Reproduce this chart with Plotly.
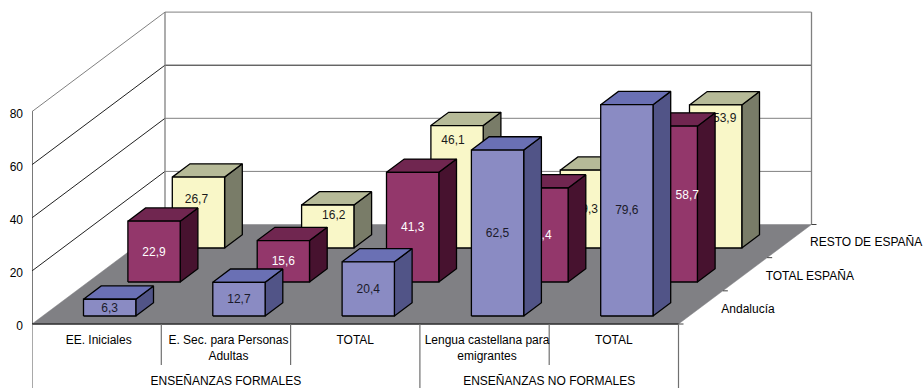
import plotly.graph_objects as go

# ---- data ----
categories = ["EE. Iniciales", "E. Sec. para Personas<br>Adultas", "TOTAL",
              "Lengua castellana para<br>emigrantes", "TOTAL"]
groups = ["ENSEÑANZAS FORMALES", "ENSEÑANZAS NO FORMALES"]
series_names = ["Andalucía", "TOTAL ESPAÑA", "RESTO DE ESPAÑA"]
andalucia = [6.3, 12.7, 20.4, 62.5, 79.6]
total_espana = [22.9, 15.6, 41.3, 35.4, 58.7]
resto_espana = [26.7, 16.2, 46.1, 29.3, 53.9]
value_ticks = [0, 20, 40, 60, 80]

# ---- chart geometry (axis units: x = category widths, y = value units) ----
CAT_PX = 129.3
VAL_PX = 2.655
LEFT_PX, ZERO_PX, W, H = 32, 324, 924, 388
DEPTH_X, DEPTH_Y = 133 / CAT_PX, 99.5 / VAL_PX      # full floor depth
STEP_X, STEP_Y = 44.4 / CAT_PX, 34 / VAL_PX         # one series back
BAR_W = 52.3 / CAT_PX
BAR_DX, BAR_DY = 17.7 / CAT_PX, 13.3 / VAL_PX       # bar depth
START_X, START_Y = 51.5 / CAT_PX, 8 / VAL_PX        # first bar's front corner
WALL_TOP = 80
FONT = 12

styles = [
    dict(front="#8a8bc3", top="#6a70b4", side="#515487", text="#1a1a2a"),
    dict(front="#93376b", top="#702650", side="#47122f", text="#ffffff"),
    dict(front="#f9f7c8", top="#b6ba98", side="#797c68", text="#1a1a1a"),
]
# manual label moves (px) as in the original, [series][category]
label_dx = [[0, 0, 0, 0, 0], [0, 0, 0, -2, 16], [-2, 6, -4, 0, 9]]
label_dy = [[0, 0, 0, 0, 0], [0, 0, 0, 0, -9], [-14, -11, -47, 0, -58]]
cat_label_dx = [2, 2.5, 0, 2.5, 0]
TEXT_DOWN = 1 / VAL_PX

fig = go.Figure()


def line(xs, ys, color="#808080", width=1):
    fig.add_trace(go.Scatter(x=xs, y=ys, mode="lines", hoverinfo="skip", cliponaxis=False,
                             line=dict(color=color, width=width)))


def poly(xs, ys, fill, edge="#000000", width=1.3):
    fig.add_trace(go.Scatter(x=xs + xs[:1], y=ys + ys[:1], mode="lines", fill="toself",
                             fillcolor=fill, hoverinfo="skip",
                             line=dict(color=edge, width=width)))


def text(x, y, s, color="#000000", pos="middle center", size=FONT):
    fig.add_trace(go.Scatter(x=[x], y=[y - TEXT_DOWN], mode="text", text=[s], textposition=pos,
                             hoverinfo="skip", cliponaxis=False,
                             textfont=dict(family="Liberation Sans, Arial", size=size, color=color)))


ncat = len(categories)
# floor
poly([0, DEPTH_X, ncat + DEPTH_X, ncat], [0, DEPTH_Y, DEPTH_Y, 0], "#808084", edge="#808084", width=0.5)

# walls
wall_colors = ["#808080", "#808080", "#808080", "#202020", "#808080"]
side_colors = ["#808080", "#202020", "#202020", "#202020", "#808080"]
for v, wc, sc in zip(value_ticks, wall_colors, side_colors):
    if v > 0:
        line([DEPTH_X, ncat + DEPTH_X], [v + DEPTH_Y, v + DEPTH_Y], wc)
        line([0, DEPTH_X], [v, v + DEPTH_Y], sc)
line([DEPTH_X, DEPTH_X], [DEPTH_Y, WALL_TOP + DEPTH_Y], "#808080", 1.3)
line([ncat + DEPTH_X, ncat + DEPTH_X], [DEPTH_Y, WALL_TOP + DEPTH_Y], "#808080", 1.3)

# axes
line([0, 0], [0, WALL_TOP], "#303030", 1.3)
line([0, ncat], [0, 0], "#303030", 1.3)

# depth ticks and series labels
for i in range(4):
    fx = ncat + DEPTH_X * i / 3
    fy = DEPTH_Y * i / 3
    line([fx, fx + 5 / CAT_PX], [fy, fy], "#404040")

for i, name in enumerate(series_names):
    text(ncat + DEPTH_X * (i + 1) / 3 - 1.5 / CAT_PX, DEPTH_Y * i / 3 + 15.3 / VAL_PX, name, pos="middle right")

# bars, back to front
all_values = [andalucia, total_espana, resto_espana]
for s in (2, 1, 0):
    st = styles[s]
    for c, val in enumerate(all_values[s]):
        x0 = c + START_X + s * STEP_X
        b = START_Y + s * STEP_Y
        t = b + val
        x1 = x0 + BAR_W
        poly([x1, x1 + BAR_DX, x1 + BAR_DX, x1], [b, b + BAR_DY, t + BAR_DY, t], st["side"])
        poly([x0, x0 + BAR_DX, x1 + BAR_DX, x1], [t, t + BAR_DY, t + BAR_DY, t], st["top"])
        poly([x0, x1, x1, x0], [b, b, t, t], st["front"])
        text((x0 + x1) / 2 + label_dx[s][c] / CAT_PX, b + val / 2 - label_dy[s][c] / VAL_PX,
             f"{val:.1f}".replace(".", ","), color=st["text"])

# multi-level category axis
below = lambda px: -(px - ZERO_PX) / VAL_PX
for c in range(ncat + 1):
    long_tick = c in (0, 3, 5)
    line([c, c], [0, below(388 if long_tick else 365)], "#707070", 1.2)
for c, name in enumerate(categories):
    two = "<br>" in name
    text(c + 0.5 + cat_label_dx[c] / CAT_PX, below(348 if two else 340), name)
text(1.5, below(381), groups[0])
text(4.0, below(381), groups[1])

fig.update_layout(
    width=W, height=H, showlegend=False, paper_bgcolor="white", plot_bgcolor="white",
    margin=dict(l=LEFT_PX, r=0, t=0, b=0, pad=0),
    font=dict(family="Liberation Sans, Arial", size=FONT, color="#000000"),
    xaxis=dict(visible=False, range=[0, (W - LEFT_PX) / CAT_PX]),
    yaxis=dict(range=[(ZERO_PX - H) / VAL_PX, ZERO_PX / VAL_PX], tickvals=value_ticks,
               showgrid=False, zeroline=False, showline=False, ticks="",
               ticklabelstandoff=8, ticklabelshift=2, tickfont=dict(size=FONT, color="#000000")),
)
fig.write_html("out.html", config={"displayModeBar": False},
               post_script="document.body.style.margin='0';document.documentElement.style.overflow='hidden';")
